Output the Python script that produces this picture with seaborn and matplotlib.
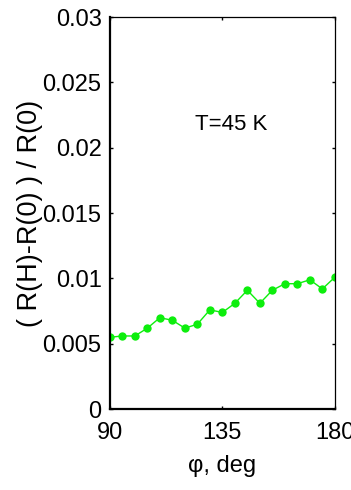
import matplotlib
matplotlib.use("Agg")
import matplotlib.pyplot as plt
import seaborn as sns
import pandas as pd

phi_deg = [90, 95, 100, 105, 110, 115, 120, 125, 130, 135, 140, 145, 150, 155, 160, 165, 170, 175, 180]
ratio = [0.0055, 0.0056, 0.0056, 0.0062, 0.0070, 0.0068, 0.0062, 0.0065, 0.0076, 0.0074,
         0.0081, 0.0091, 0.0081, 0.0091, 0.0096, 0.0096, 0.0099, 0.0092, 0.0101]
x_ticks = [90, 135, 180]
y_ticks = [0, 0.005, 0.01, 0.015, 0.02, 0.025, 0.03]
y_tick_labels = ["0", "0.005", "0.01", "0.015", "0.02", "0.025", "0.03"]
annotation = "T=45 K"

sns.set_theme(style="white")
plt.rcParams['font.family'] = ['Liberation Sans', 'DejaVu Sans']

df = pd.DataFrame({"phi": phi_deg, "ratio": ratio})

fig = plt.figure(figsize=(3.51, 4.90), dpi=100)
ax = fig.add_axes([0.313, 0.165, 0.641, 0.800])
sns.lineplot(data=df, x="phi", y="ratio", ax=ax, color="#0dee0d", marker="o",
             markersize=6, markeredgewidth=0, linewidth=1.0)

ax.set_xlim(90, 180)
ax.set_ylim(0, 0.03)
ax.set_xticks(x_ticks)
ax.set_xticklabels([str(v) for v in x_ticks])
ax.set_yticks(y_ticks)
ax.set_yticklabels(y_tick_labels)

for s in ax.spines.values():
    s.set_visible(True)
    s.set_color("black")
ax.spines['left'].set_linewidth(1.6)
ax.spines['bottom'].set_linewidth(1.6)
ax.spines['top'].set_linewidth(0.9)
ax.spines['right'].set_linewidth(0.9)

ax.tick_params(axis='both', which='major', direction='in', length=2.5, width=1.0,
               color='black', labelsize=17, labelcolor='black',
               top=True, right=True, bottom=True, left=True)
ax.tick_params(axis='x', pad=9)
ax.tick_params(axis='y', pad=6)

ax.set_xlabel("φ, deg", fontsize=17, color='black', labelpad=8)
ax.set_ylabel("( R(H)-R(0) ) / R(0)", fontsize=19.5, color='black', labelpad=0)

ax.text(138.7, 0.0218, annotation, fontsize=16, ha='center', va='center', color='black')

fig.savefig("out.png", dpi=100)
